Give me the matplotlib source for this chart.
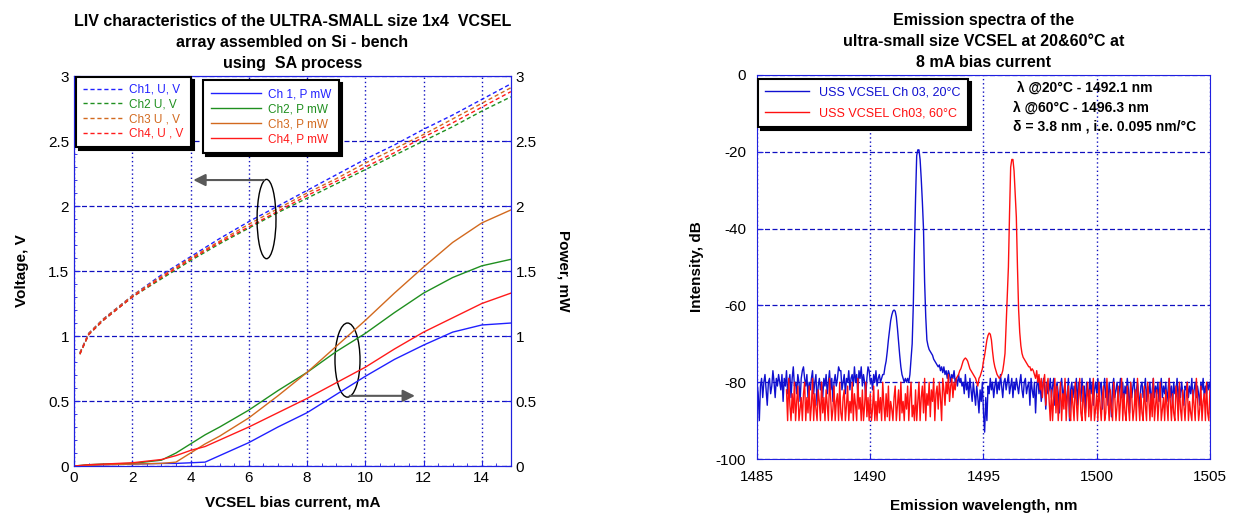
import numpy as np
import matplotlib.pyplot as plt
from matplotlib.patches import Ellipse

# ---- LIV data (left panel) ----
i_v = [0.2, 0.5, 1, 1.5, 2, 3, 4, 5, 6, 7, 8, 9, 10, 11, 12, 13, 14, 15]
v_ch1 = [0.87, 1.02, 1.13, 1.22, 1.31, 1.47, 1.61, 1.75, 1.88, 2.0, 2.12, 2.24, 2.36, 2.47, 2.59, 2.7, 2.82, 2.94]
v_ch2 = [0.86, 1.01, 1.12, 1.21, 1.3, 1.44, 1.58, 1.71, 1.83, 1.95, 2.06, 2.17, 2.28, 2.39, 2.5, 2.61, 2.73, 2.84]
v_ch3 = [0.87, 1.02, 1.13, 1.22, 1.31, 1.46, 1.6, 1.73, 1.86, 1.98, 2.1, 2.21, 2.33, 2.44, 2.55, 2.67, 2.79, 2.91]
v_ch4 = [0.86, 1.01, 1.12, 1.21, 1.3, 1.45, 1.59, 1.72, 1.84, 1.96, 2.08, 2.19, 2.3, 2.41, 2.53, 2.64, 2.76, 2.88]

i_p = [0, 0.5, 1, 2, 3, 3.5, 4, 4.5, 5, 6, 7, 8, 9, 10, 11, 12, 13, 14, 15]
p_ch1 = [0.0, 0.005, 0.01, 0.015, 0.02, 0.02, 0.025, 0.03, 0.08, 0.18, 0.3, 0.41, 0.55, 0.69, 0.82, 0.93, 1.03, 1.085, 1.1]
p_ch2 = [0.0, 0.01, 0.015, 0.02, 0.045, 0.1, 0.17, 0.24, 0.3, 0.43, 0.58, 0.72, 0.88, 1.02, 1.18, 1.33, 1.45, 1.54, 1.59]
p_ch3 = [0.0, 0.005, 0.01, 0.015, 0.02, 0.03, 0.1, 0.17, 0.23, 0.37, 0.54, 0.72, 0.92, 1.12, 1.33, 1.53, 1.72, 1.87, 1.97]
p_ch4 = [0.0, 0.01, 0.015, 0.025, 0.05, 0.08, 0.12, 0.15, 0.2, 0.3, 0.41, 0.52, 0.64, 0.76, 0.9, 1.03, 1.14, 1.25, 1.33]

# ---- spectra (right panel), 0.05 nm step ----
blue_start = 1485.0
spec_20 = [
    -80, -83, -90, -81, -79, -84, -80, -78, -82, -86, -80, -79, -83, -81, -77, -80, -84, -79, -81, -78,
    -80, -82, -78, -85, -79, -81, -77, -83, -80, -78, -84, -79, -76, -81, -80, -83, -78, -80, -85, -79,
    -77, -76, -79, -81, -78, -84, -80, -82, -79, -77, -83, -80, -78, -86, -81, -79, -82, -80, -84, -79,
    -81, -78, -83, -80, -77, -82, -79, -85, -80, -78, -81, -79, -76, -77, -77, -82, -80, -78, -83, -79,
    -80, -77, -82, -79, -78, -81, -76, -80, -78, -83, -77, -79, -76, -81, -78, -80, -84, -79, -76, -77,
    -80, -79, -82, -78, -80, -77, -81, -79, -78, -80, -79, -78, -78, -76, -74.5, -72, -69, -66.5, -64, -62.5,
    -61.5, -61.2, -61.5, -63, -66, -69.5, -73, -76, -78, -79, -80, -79, -80, -79, -80, -78, -74, -70, -60, -45,
    -32, -21, -19.5, -19.5, -22, -27, -33, -40, -54, -63, -69, -70.5, -71.5, -72, -72.5, -73, -74, -74.5, -75, -75.5,
    -76, -75.5, -77, -76, -77.5, -76, -78, -77, -79, -77, -78, -80, -78, -79, -77, -80, -79, -81, -78, -80,
    -79, -81, -80, -83, -78, -82, -80, -84, -79, -82, -85, -80, -83, -86, -81, -84, -88, -82, -85, -80,
    -88, -93, -84, -90, -81, -83, -79, -82, -80, -84, -81, -79, -83, -80, -82, -78, -81, -84, -80, -79,
    -82, -80, -78, -83, -81, -79, -84, -80, -82, -79, -81, -83, -80, -78, -82, -84, -80, -79, -83, -81,
    -80, -86, -79, -82, -84, -80, -88, -81, -79, -83, -80, -85, -82, -79, -81, -87, -80, -83, -82, -79,
    -84, -81, -79, -86, -82, -80, -83, -88, -81, -79, -84, -82, -80, -87, -83, -79, -90, -82, -80, -84,
    -81, -83, -79, -86, -80, -82, -85, -79, -83, -81, -88, -80, -82, -84, -79, -83, -80, -86, -82, -80,
    -83, -79, -85, -81, -80, -87, -82, -79, -84, -81, -86, -80, -83, -89, -81, -79, -84, -82, -80, -85,
    -82, -79, -84, -80, -86, -81, -83, -79, -82, -88, -80, -84, -81, -79, -85, -82, -80, -83, -87, -81,
    -80, -84, -82, -79, -85, -81, -83, -80, -86, -82, -79, -84, -81, -83, -80, -85, -82, -79, -84, -81,
    -83, -80, -85, -82, -79, -84, -81, -86, -80, -83, -82, -79, -85, -81, -84, -80, -83, -86, -81, -82,
    -80, -84, -81, -83, -79, -85, -82, -80, -84, -81, -83, -86, -80, -82, -79, -84, -81, -83, -80, -82,
    -80,
]

red_start = 1486.3
spec_60 = [
    -82, -90, -79, -86, -90, -83, -88, -80, -90, -85, -81, -90, -87, -84,
    -90, -83, -80, -90, -84, -88, -81, -90, -86, -79, -90, -83, -87, -90, -82, -85, -90, -80, -88, -84,
    -90, -82, -86, -90, -79, -84, -90, -87, -81, -90, -85, -83, -90, -80, -88, -90, -84, -82, -90, -86,
    -81, -90, -85, -88, -80, -90, -83, -86, -90, -79, -87, -84, -90, -82, -90, -86, -80, -89, -84, -90,
    -83, -90, -87, -81, -90, -85, -90, -82, -88, -84, -90, -80, -86, -90, -83, -89, -81, -90, -85, -87,
    -90, -84, -81, -90, -86, -82, -90, -80, -88, -85, -90, -83, -87, -81, -90, -84, -80, -89, -86, -90,
    -82, -90, -85, -80, -90, -84, -81, -88, -79, -90, -83, -86, -80, -89, -82, -85, -79, -90, -83, -81,
    -87, -80, -84, -90, -79, -82, -86, -80, -83, -78, -85, -81, -79, -84, -80, -82, -79, -78.5, -78, -77,
    -76.5, -75.5, -74.5, -74, -73.7, -74, -74.5, -75.5, -76.5, -77, -77.5, -78, -78.5, -79, -80, -81, -79, -78.5, -77.5, -76.5,
    -74.5, -73, -71, -69, -67.8, -67.2, -67.5, -69, -72, -74.5, -76, -77, -78, -78.5, -79, -78.5, -78, -77, -75, -72.5,
    -65, -57, -50, -36, -24, -22, -22, -25, -31, -37, -50, -61, -67, -70.5, -72.5, -73.5, -74, -74.5, -75, -75.5,
    -76, -76, -77, -76.5, -77, -78, -79, -77, -80, -78, -82, -79, -84, -80, -78, -86, -81, -79, -85, -90,
    -82, -90, -84, -79, -88, -81, -90, -85, -80, -90, -83, -87, -79, -90, -84, -81, -89, -90, -82, -86,
    -90, -80, -85, -90, -83, -79, -88, -90, -81, -86, -90, -84, -80, -89, -82, -90, -85, -79, -90, -87,
    -83, -90, -80, -86, -90, -84, -81, -90, -88, -79, -85, -90, -82, -87, -90, -80, -84, -90, -86, -81,
    -90, -85, -79, -90, -83, -88, -90, -81, -86, -90, -80, -84, -90, -87, -82, -90, -79, -85, -90, -83,
    -88, -90, -81, -86, -90, -80, -84, -90, -83, -89, -79, -90, -86, -82, -90, -85, -80, -90, -87, -84,
    -90, -82, -86, -90, -79, -85, -90, -83, -88, -90, -81, -84, -90, -80, -87, -90, -82, -86, -90, -84,
    -80, -90, -85, -88, -90, -82, -86, -90, -79, -84, -90, -87, -81, -90, -85, -83, -90, -80, -88, -90,
    -82,
]

wl_20 = blue_start + 0.05 * np.arange(len(spec_20))
wl_60 = red_start + 0.05 * np.arange(len(spec_60))

c_blue = '#2020ff'
c_green = '#1f8f1f'
c_orange = '#d2691e'
c_red = '#ff1a1a'
grid_c = '#1010c0'

plt.rcParams['font.family'] = 'Liberation Sans'
plt.rcParams['axes.unicode_minus'] = False

fig = plt.figure(figsize=(12.34, 5.27), dpi=100)


def style_axes(ax, xt, yt):
    for s in ax.spines.values():
        s.set_color('#2020e0')
    ax.set_xticks(xt)
    ax.set_yticks(yt)
    ax.tick_params(direction='in', colors='#2020e0', labelcolor='black', labelsize=11, length=4)
    for y in yt:
        ax.axhline(y, color=grid_c, lw=0.9, ls=(0, (4, 2)), zorder=0)
    for x in xt:
        ax.axvline(x, color=grid_c, lw=1.0, ls=(0, (1, 2)), zorder=0)


# ---------------- left panel ----------------
ax1 = fig.add_axes([0.060, 0.1157, 0.354, 0.740])
ax2 = ax1.twinx()
l1, = ax1.plot(i_v, v_ch1, ls=(0, (3, 2)), color=c_blue, lw=1, label='Ch1, U, V')
l2, = ax1.plot(i_v, v_ch2, ls=(0, (3, 2)), color=c_green, lw=1, label='Ch2 U, V')
l3, = ax1.plot(i_v, v_ch3, ls=(0, (3, 2)), color=c_orange, lw=1, label='Ch3 U , V')
l4, = ax1.plot(i_v, v_ch4, ls=(0, (3, 2)), color=c_red, lw=1, label='Ch4, U , V')
m1, = ax2.plot(i_p, p_ch1, color=c_blue, lw=1, label='Ch 1, P mW')
m2, = ax2.plot(i_p, p_ch2, color=c_green, lw=1, label='Ch2, P mW')
m3, = ax2.plot(i_p, p_ch3, color=c_orange, lw=1, label='Ch3, P mW')
m4, = ax2.plot(i_p, p_ch4, color=c_red, lw=1, label='Ch4, P mW')

ax1.set_xlim(0, 15)
ax1.set_ylim(0, 3)
ax2.set_ylim(0, 3)
style_axes(ax1, [0, 2, 4, 6, 8, 10, 12, 14], [0, 0.5, 1, 1.5, 2, 2.5, 3])
ax1.set_yticklabels(['0', '0.5', '1', '1.5', '2', '2.5', '3'])
ax2.set_yticks([0, 0.5, 1, 1.5, 2, 2.5, 3])
ax2.set_yticklabels(['0', '0.5', '1', '1.5', '2', '2.5', '3'])
ax2.tick_params(direction='in', colors='#2020e0', labelcolor='black', labelsize=11, length=4)
for s in ax2.spines.values():
    s.set_color('#2020e0')
ax1.minorticks_on()
ax1.tick_params(which='minor', direction='in', colors='#2020e0', length=2)

ax1.set_xlabel('VCSEL bias current, mA', fontsize=11, fontweight='bold', labelpad=8)
ax1.set_ylabel('Voltage, V', fontsize=11, fontweight='bold', labelpad=14)
ax2.set_ylabel('Power, mW', fontsize=11, fontweight='bold', rotation=270, labelpad=24)
ax1.set_title('LIV characteristics of the ULTRA-SMALL size 1x4  VCSEL\narray assembled on Si - bench\nusing  SA process',
              fontsize=11.5, fontweight='bold', pad=6, linespacing=1.5)

ax2.add_patch(Ellipse((6.61, 1.9), 0.65, 0.61, fill=False, color='black', lw=1))
ax2.annotate('', xy=(4.0, 2.2), xytext=(6.61, 2.2),
             arrowprops=dict(arrowstyle='-|>', color='0.35', lw=1.5, mutation_scale=18))
ax2.add_patch(Ellipse((9.39, 0.815), 0.86, 0.57, fill=False, color='black', lw=1))
ax2.annotate('', xy=(11.8, 0.54), xytext=(9.37, 0.54),
             arrowprops=dict(arrowstyle='-|>', color='0.35', lw=1.5, mutation_scale=18))

shadow = {'color': 'black', 'alpha': 1}
leg1 = ax2.legend(handles=[l1, l2, l3, l4], loc='upper left', bbox_to_anchor=(0.005, 0.998),
                  borderaxespad=0, fontsize=8.5, labelcolor='linecolor', fancybox=False,
                  framealpha=1, edgecolor='black', shadow=shadow, handlelength=3.3,
                  handletextpad=0.6, labelspacing=0.22, borderpad=0.6)
leg1.get_frame().set_linewidth(1.5)
ax2.add_artist(leg1)
leg2 = ax2.legend(handles=[m1, m2, m3, m4], loc='upper left', bbox_to_anchor=(0.295, 0.99),
                  borderaxespad=0, fontsize=8.5, labelcolor='linecolor', fancybox=False,
                  framealpha=1, edgecolor='black', shadow=shadow, handlelength=4.2,
                  handletextpad=0.6, labelspacing=0.25, borderpad=0.7)
leg2.get_frame().set_linewidth(1.5)

# ---------------- right panel ----------------
ax3 = fig.add_axes([0.6135, 0.129, 0.367, 0.7287])
s20, = ax3.plot(wl_20, spec_20, color='#1010d0', lw=1, label='USS VCSEL Ch 03, 20°C')
s60, = ax3.plot(wl_60, spec_60, color='#ff1010', lw=1, label='USS VCSEL Ch03, 60°C')
ax3.set_xlim(1485, 1505)
ax3.set_ylim(-100, 0)
style_axes(ax3, [1485, 1490, 1495, 1500, 1505], [-100, -80, -60, -40, -20, 0])
ax3.tick_params(axis='x', pad=8)
ax3.tick_params(axis='y', pad=8)
ax3.set_xlabel('Emission wavelength, nm', fontsize=11, fontweight='bold', labelpad=11)
ax3.set_ylabel('Intensity, dB', fontsize=11, fontweight='bold', labelpad=8)
ax3.set_title('Emission spectra of the\nultra-small size VCSEL at 20&60°C at\n8 mA bias current',
              fontsize=11.5, fontweight='bold', pad=6, linespacing=1.5)
leg3 = ax3.legend(loc='upper left', bbox_to_anchor=(0.002, 0.99), borderaxespad=0,
                  fontsize=9, labelcolor='linecolor', fancybox=False, framealpha=1,
                  edgecolor='black', shadow=shadow, handlelength=3.5, labelspacing=0.75,
                  borderpad=0.6)
leg3.get_frame().set_linewidth(1.5)
ax3.text(0.565, 0.985, ' λ @20°C - 1492.1 nm\nλ @60°C - 1496.3 nm\nδ = 3.8 nm , i.e. 0.095 nm/°C',
         transform=ax3.transAxes, ha='left', va='top', fontsize=10, fontweight='bold',
         linespacing=1.5)

fig.savefig('out.png', dpi=100)
